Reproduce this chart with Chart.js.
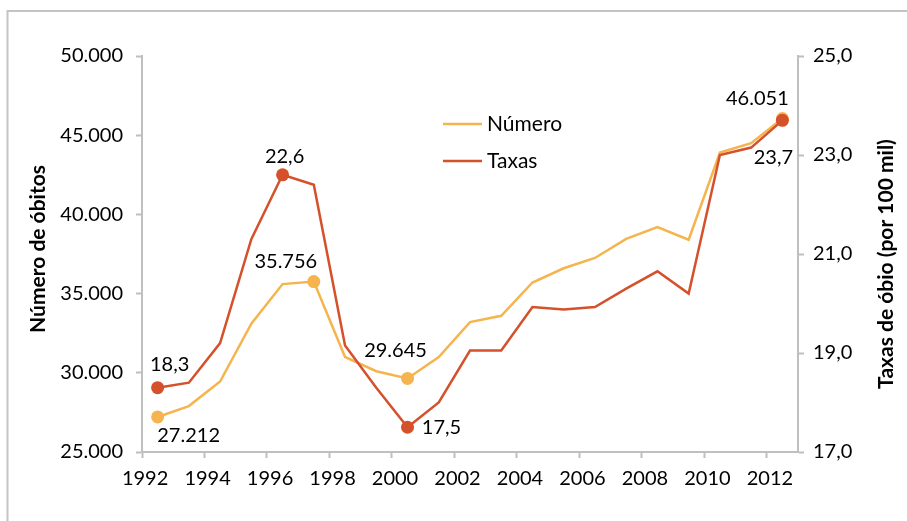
<!DOCTYPE html>
<html>
<head>
<meta charset="utf-8">
<script src="https://cdn.jsdelivr.net/npm/chart.js@4"></script>
<style>
  html, body { margin: 0; padding: 0; background: #fff; }
</style>
</head>
<body>
<canvas id="line-chart" width="907" height="521"></canvas>
<script>
// anos (categorias) e rótulos do eixo x
var anos = ['1992', '1993', '1994', '1995', '1996', '1997', '1998', '1999', '2000', '2001', '2002',
            '2003', '2004', '2005', '2006', '2007', '2008', '2009', '2010', '2011', '2012'];
var anosEixo = ['1992', '1994', '1996', '1998', '2000', '2002', '2004', '2006', '2008', '2010', '2012'];

// séries
var numero = [27212, 27900, 29450, 33100, 35600, 35756, 31000, 30100, 29645, 31000, 33200,
              33600, 35700, 36600, 37250, 38450, 39200, 38400, 43900, 44500, 46051];
var taxas = [18.3, 18.4, 19.2, 21.3, 22.6, 22.4, 19.15, 18.3, 17.5, 18.0, 19.05,
             19.05, 19.93, 19.88, 19.93, 20.3, 20.65, 20.2, 23.0, 23.15, 23.7];

// pontos destacados com rótulo
var numeroMarcados = [0, 5, 8, 20];
var taxasMarcados = [0, 4, 8, 20];

// ticks dos eixos y
var ticksNumero = [25000, 30000, 35000, 40000, 45000, 50000];
var ticksTaxas = [17, 19, 21, 23, 25];

var laranja = '#F6B44E';
var vermelho = '#D4512B';
var cinza = '#BFBFBF';
var fonte = 'Lato';

function fmtMil(v) { return String(Math.round(v)).replace(/\B(?=(\d{3})+(?!\d))/g, '.'); }
function fmtDec(v) { return v.toFixed(1).replace('.', ','); }

var rotulos = {
  id: 'rotulos',
  beforeDraw: function(chart) {
    var ctx = chart.ctx;
    ctx.save();
    ctx.strokeStyle = '#C4C4C4';
    ctx.lineWidth = 2;
    ctx.beginPath();
    ctx.moveTo(7.5, 521);
    ctx.lineTo(7.5, 11);
    ctx.lineTo(907, 11);
    ctx.stroke();
    ctx.restore();
  },
  afterDatasetsDraw: function(chart) {
    var ctx = chart.ctx;
    ctx.save();
    ctx.font = '20px ' + fonte;
    ctx.fillStyle = '#000';
    ctx.textAlign = 'center';
    ctx.textBaseline = 'middle';
    chart.data.datasets.forEach(function(ds, di) {
      var meta = chart.getDatasetMeta(di);
      ds.marcados.forEach(function(idx, k) {
        var p = meta.data[idx];
        var off = ds.deslocamentos[k];
        ctx.fillText(ds.formato(ds.data[idx]), p.x + off[0], p.y + off[1]);
      });
    });

    // legenda
    ctx.textAlign = 'left';
    ctx.font = '21px ' + fonte;
    chart.data.datasets.forEach(function(ds, di) {
      var y = 124 + di * 37;
      ctx.strokeStyle = ds.borderColor;
      ctx.lineWidth = 2.5;
      ctx.beginPath();
      ctx.moveTo(443, y);
      ctx.lineTo(482, y);
      ctx.stroke();
      ctx.fillText(ds.label, 487, y);
    });

    // títulos dos eixos
    ctx.font = 'bold 21px ' + fonte;
    ctx.textAlign = 'center';
    ctx.save();
    ctx.translate(38, 249);
    ctx.rotate(-Math.PI / 2);
    ctx.fillText('Número de óbitos', 0, 0);
    ctx.restore();
    ctx.save();
    ctx.translate(886, 264);
    ctx.rotate(-Math.PI / 2);
    ctx.fillText('Taxas de óbio (por 100 mil)', 0, 0);
    ctx.restore();
    ctx.restore();
  }
};

new Chart(document.getElementById('line-chart'), {
  type: 'line',
  data: {
    labels: anos,
    datasets: [{
        label: 'Número',
        data: numero,
        yAxisID: 'yNum',
        borderColor: laranja,
        backgroundColor: laranja,
        borderWidth: 2.5,
        pointBorderWidth: 0,
        pointRadius: function(c) { return numeroMarcados.indexOf(c.dataIndex) >= 0 ? 6.5 : 0; },
        pointHoverRadius: 0,
        fill: false,
        order: 1,
        marcados: numeroMarcados,
        deslocamentos: [[31, 19], [-28, -20], [-12, -28], [-25, -20]],
        formato: fmtMil
      }, {
        label: 'Taxas',
        data: taxas,
        yAxisID: 'yTaxa',
        borderColor: vermelho,
        backgroundColor: vermelho,
        borderWidth: 2.5,
        pointBorderWidth: 0,
        pointRadius: function(c) { return taxasMarcados.indexOf(c.dataIndex) >= 0 ? 6.5 : 0; },
        pointHoverRadius: 0,
        fill: false,
        order: 0,
        marcados: taxasMarcados,
        deslocamentos: [[12, -23], [2, -18], [34, 0], [-9, 37]],
        formato: fmtDec
      }
    ]
  },
  options: {
    responsive: false,
    animation: false,
    layout: { padding: { top: 56 } },
    plugins: { legend: { display: false }, tooltip: { enabled: false } },
    scales: {
      x: {
        offset: true,
        grid: {
          offset: true,
          drawOnChartArea: false,
          tickLength: 6,
          tickWidth: 2,
          tickColor: function(c) { return c.index % 2 === 0 ? cinza : 'rgba(0,0,0,0)'; }
        },
        border: { color: cinza, width: 2 },
        ticks: {
          autoSkip: false,
          maxRotation: 0,
          labelOffset: -12.5,
          padding: 9,
          color: '#000',
          font: { family: fonte, size: 20 },
          callback: function(v) {
            var l = this.getLabelForValue(v);
            return anosEixo.indexOf(l) >= 0 ? l : '';
          }
        },
        afterFit: function(s) { s.height = 69; }
      },
      yNum: {
        position: 'left',
        min: 25000,
        max: 50000,
        afterBuildTicks: function(s) { s.ticks = ticksNumero.map(function(v) { return { value: v }; }); },
        grid: { drawOnChartArea: false, tickLength: 6, tickWidth: 2, tickColor: cinza },
        border: { color: cinza, width: 2 },
        ticks: {
          padding: 13,
          color: '#000',
          font: { family: fonte, size: 20 },
          callback: function(v) { return fmtMil(v); }
        },
        afterFit: function(s) { s.width = 142; }
      },
      yTaxa: {
        position: 'right',
        min: 17,
        max: 25,
        afterBuildTicks: function(s) { s.ticks = ticksTaxas.map(function(v) { return { value: v }; }); },
        grid: { drawOnChartArea: false, tickLength: 6, tickWidth: 2, tickColor: cinza },
        border: { color: cinza, width: 2 },
        ticks: {
          padding: 9,
          color: '#000',
          font: { family: fonte, size: 20 },
          callback: function(v) { return fmtDec(v); }
        },
        afterFit: function(s) { s.width = 109; }
      }
    }
  },
  plugins: [rotulos]
});
</script>
</body>
</html>
